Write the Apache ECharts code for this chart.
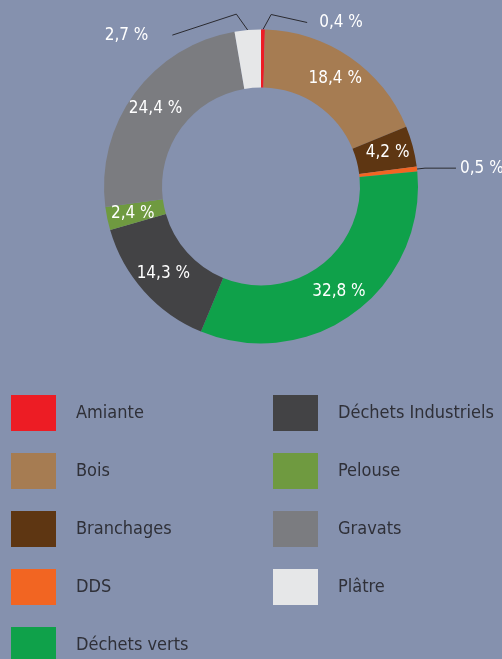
<!DOCTYPE html>
<html>
<head>
<meta charset="utf-8">
<script src="https://cdn.jsdelivr.net/npm/echarts@6/dist/echarts.min.js"></script>
<style>
    html, body { margin: 0; padding: 0; background: #8591ae; overflow: hidden; }
    /* taller than the window: the last legend row is cut off, as in the original */
    #chart { width: 502px; height: 680px; }
</style>
</head>
<body>
<div id="chart"></div>
<script>
const categories = ['Amiante', 'Bois', 'Branchages', 'DDS', 'Déchets verts', 'Déchets Industriels', 'Pelouse', 'Gravats', 'Plâtre']
const values = [0.4, 18.4, 4.2, 0.5, 32.8, 14.3, 2.4, 24.4, 2.7]
const colors = ['#ed1c24', '#a67c52', '#5e3612', '#f26522', '#0fa14a', '#434345', '#6f9a40', '#7b7c80', '#e6e7e8']
// small slices get their label outside with a leader line
const outsideItems = ['Amiante', 'DDS', 'Plâtre']
const legendLeft = categories.slice(0, 5)
const legendRight = categories.slice(5)

const font = "'DejaVu Sans Condensed', 'DejaVu Sans', sans-serif"

const chart = echarts.init(document.getElementById('chart'))

// [length, length2, distanceToLabelLine, drop of label below the bend, sideways shift of the bend]
const leader = {
    'Amiante': [15, 44, 12, 8, 8],
    'DDS': [8, 31, 4, 0, 0],
    'Plâtre': [16, 74, 24, 21, -10]
}

const legendBase = {
    orient: 'vertical',
    top: 395,
    padding: 0,
    itemWidth: 45,
    itemHeight: 36,
    itemGap: 22,
    icon: 'rect',
    selectedMode: false,
    textStyle: {
        fontFamily: font,
        fontSize: 18,
        color: '#2f3038',
        padding: [0, 0, 0, 15]
    }
}

chart.setOption({
    backgroundColor: '#8591ae',
    animation: false,
    color: colors,
    legend: [
        Object.assign({}, legendBase, { left: 11, data: legendLeft }),
        Object.assign({}, legendBase, { left: 273, data: legendRight })
    ],
    series: [
        {
            type: 'pie',
            center: [261, 186.5],
            radius: [99, 157],
            startAngle: 90,
            clockwise: true,
            avoidLabelOverlap: false,
            silent: true,
            label: {
                position: 'inside',
                color: '#ffffff',
                fontFamily: font,
                fontSize: 17,
                formatter: p => p.value.toFixed(1).replace('.', ',') + ' %'
            },
            labelLine: {
                lineStyle: { color: '#2a2a30', width: 1 }
            },
            labelLayout: params => {
                const cfg = leader[categories[params.dataIndex]]
                if (!cfg || !params.labelLinePoints) return {}
                const pts = params.labelLinePoints.map(p => p.slice())
                // the bend leans sideways and the label hangs a little below it
                pts[1][0] += cfg[4]
                pts[2][1] += cfg[3]
                return { dy: cfg[3], labelLinePoints: pts }
            },
            data: categories.map((name, i) => {
                const item = { name: name, value: values[i] }
                if (outsideItems.includes(name)) {
                    const cfg = leader[name]
                    item.label = { position: 'outside', distanceToLabelLine: cfg[2] }
                    item.labelLine = { show: true, length: cfg[0], length2: cfg[1] }
                }
                return item
            })
        }
    ]
})
</script>
</body>
</html>
